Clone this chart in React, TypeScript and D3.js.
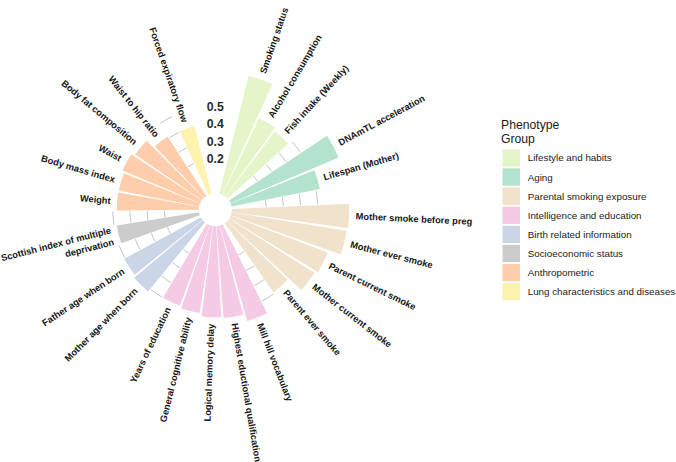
import React from "react";
import * as d3 from "d3";

const groupNames = [
  "Lifestyle and habits",
  "Aging",
  "Parental smoking exposure",
  "Intelligence and education",
  "Birth related information",
  "Socioeconomic status",
  "Anthropometric",
  "Lung characteristics and diseases",
];
const groupColors = ["#E6F5C9", "#B3E2CD", "#F1E2CC", "#F4CAE4", "#CBD5E8", "#CCCCCC", "#FDCDAC", "#FFF2AE"];

const phenotypes = [
  "Smoking status",
  "Alcohol consumption",
  "Fish intake (Weekly)",
  "DNAmTL acceleration",
  "Lifespan (Mother)",
  "Mother smoke before preg",
  "Mother ever smoke",
  "Parent current smoke",
  "Mother current smoke",
  "Parent ever smoke",
  "Mill hill vocabulary",
  "Highest eductional qualification",
  "Logical memory delay",
  "General cognitive ability",
  "Years of education",
  "Mother age when born",
  "Father age when born",
  "Scottish index of multiple\ndeprivation",
  "Weight",
  "Body mass index",
  "Waist",
  "Body fat composition",
  "Waist to hip ratio",
  "Forced expiratory flow",
];
const phenotypeGroup = [0, 0, 0, 1, 1, 2, 2, 2, 2, 2, 3, 3, 3, 3, 3, 4, 4, 5, 6, 6, 6, 6, 6, 7];
const values = [
  0.706, 0.494, 0.477, 0.683, 0.524, 0.683, 0.678, 0.604, 0.588, 0.491, 0.577, 0.536, 0.53, 0.512, 0.499,
  0.52, 0.506, 0.485, 0.477, 0.476, 0.49, 0.47, 0.413, 0.406,
];
const gridTicks = [0.2, 0.3, 0.4, 0.5];
const tickLabels = ["0.2", "0.3", "0.4", "0.5"];

const W = 676;
const H = 462;
const cx = 215.3;
const cy = 209.7;
const FONT = "'Liberation Sans', Arial, Helvetica, sans-serif";

const SLOT = 11.7; // degrees per bar slot
const GAP = 7.5; // extra degrees between groups
const TOPGAP = 360 - phenotypes.length * SLOT - (groupNames.length - 1) * GAP;
const BARFRAC = 0.9;

const rad = (d: number) => (d * Math.PI) / 180;

export default function App() {
  const r = d3.scaleLinear().domain([0, 0.5]).range([16.5, 102.5]);

  // layout angles
  const slots: { start: number; end: number; mid: number }[] = [];
  let a = TOPGAP / 2;
  phenotypes.forEach((_, i) => {
    if (i > 0 && phenotypeGroup[i] !== phenotypeGroup[i - 1]) a += GAP;
    slots.push({ start: a, end: a + SLOT, mid: a + SLOT / 2 });
    a += SLOT;
  });

  const arc = d3.arc<any>();
  const bars = phenotypes.map((p, i) => {
    const s = slots[i];
    const half = (SLOT * BARFRAC) / 2;
    const d = arc({
      innerRadius: r(0),
      outerRadius: r(values[i]),
      startAngle: rad(s.mid - half),
      endAngle: rad(s.mid + half),
    }) as string;
    return <path key={"b" + i} d={d} fill={groupColors[phenotypeGroup[i]]} />;
  });

  // grid arcs in the gaps between groups
  const gridPaths: any[] = [];
  for (let i = 1; i < phenotypes.length; i++) {
    if (phenotypeGroup[i] !== phenotypeGroup[i - 1]) {
      const a0 = slots[i - 1].end;
      const a1 = slots[i].start;
      gridTicks.forEach((t, k) => {
        const p = d3.path();
        const rr = r(t);
        p.moveTo(rr * Math.cos(rad(a0 - 90)), rr * Math.sin(rad(a0 - 90)));
        p.arc(0, 0, rr, rad(a0 - 90), rad(a1 - 90));
        gridPaths.push(
          <path key={`g${i}-${k}`} d={p.toString()} fill="none" stroke="#c4c4c4" strokeWidth={1} />
        );
      });
    }
  }

  const labels = phenotypes.map((p, i) => {
    const th = slots[i].mid;
    const rr = r(values[i]) + 6.5;
    const x = rr * Math.sin(rad(th));
    const y = -rr * Math.cos(rad(th));
    const right = th <= 180.5;
    const rot = right ? th - 90 : th + 90;
    const lines = p.split("\n");
    return (
      <text
        key={"l" + i}
        transform={`translate(${x},${y}) rotate(${rot})`}
        textAnchor={right ? "start" : "end"}
        dominantBaseline="central"
        fontSize={9.3}
        fontWeight="bold"
        fill="#151515"
      >
        {lines.length === 1
          ? p
          : lines.map((ln, k) => (
              <tspan key={k} x={0} dy={k === 0 ? `${-0.65 * (lines.length - 1)}em` : "1.3em"}>
                {ln}
              </tspan>
            ))}
      </text>
    );
  });

  const axisLabels = gridTicks.map((t, k) => (
    <text
      key={"a" + k}
      x={0}
      y={-r(t)}
      textAnchor="middle"
      dominantBaseline="central"
      fontSize={12.3}
      fontWeight="bold"
      fill="#2b2b2b"
    >
      {tickLabels[k]}
    </text>
  ));

  const legendX = 502.5;
  const legendY = 149.3;
  const keyH = 17.3;
  const step = 19.1;

  return (
    <svg
      width={W}
      height={H}
      style={{ position: "absolute", left: 0, top: 0, background: "#fff" }}
      fontFamily={FONT}
    >
      <rect x={0} y={0} width={W} height={H} fill="#fff" />
      <g transform={`translate(${cx},${cy})`}>
        {gridPaths}
        {bars}
        {labels}
        {axisLabels}
      </g>
      <g>
        <text x={501} y={128.5} fontSize={12.2} fill="#1a1a1a">
          Phenotype
        </text>
        <text x={501} y={142.5} fontSize={12.2} fill="#1a1a1a">
          Group
        </text>
        {groupNames.map((g, k) => (
          <g key={"lg" + k}>
            <rect x={legendX} y={legendY + k * step} width={17.5} height={keyH} fill={groupColors[k]} />
            <text
              x={527.7}
              y={legendY + k * step + keyH / 2}
              dominantBaseline="central"
              fontSize={9.8}
              fill="#1a1a1a"
            >
              {g}
            </text>
          </g>
        ))}
      </g>
    </svg>
  );
}
